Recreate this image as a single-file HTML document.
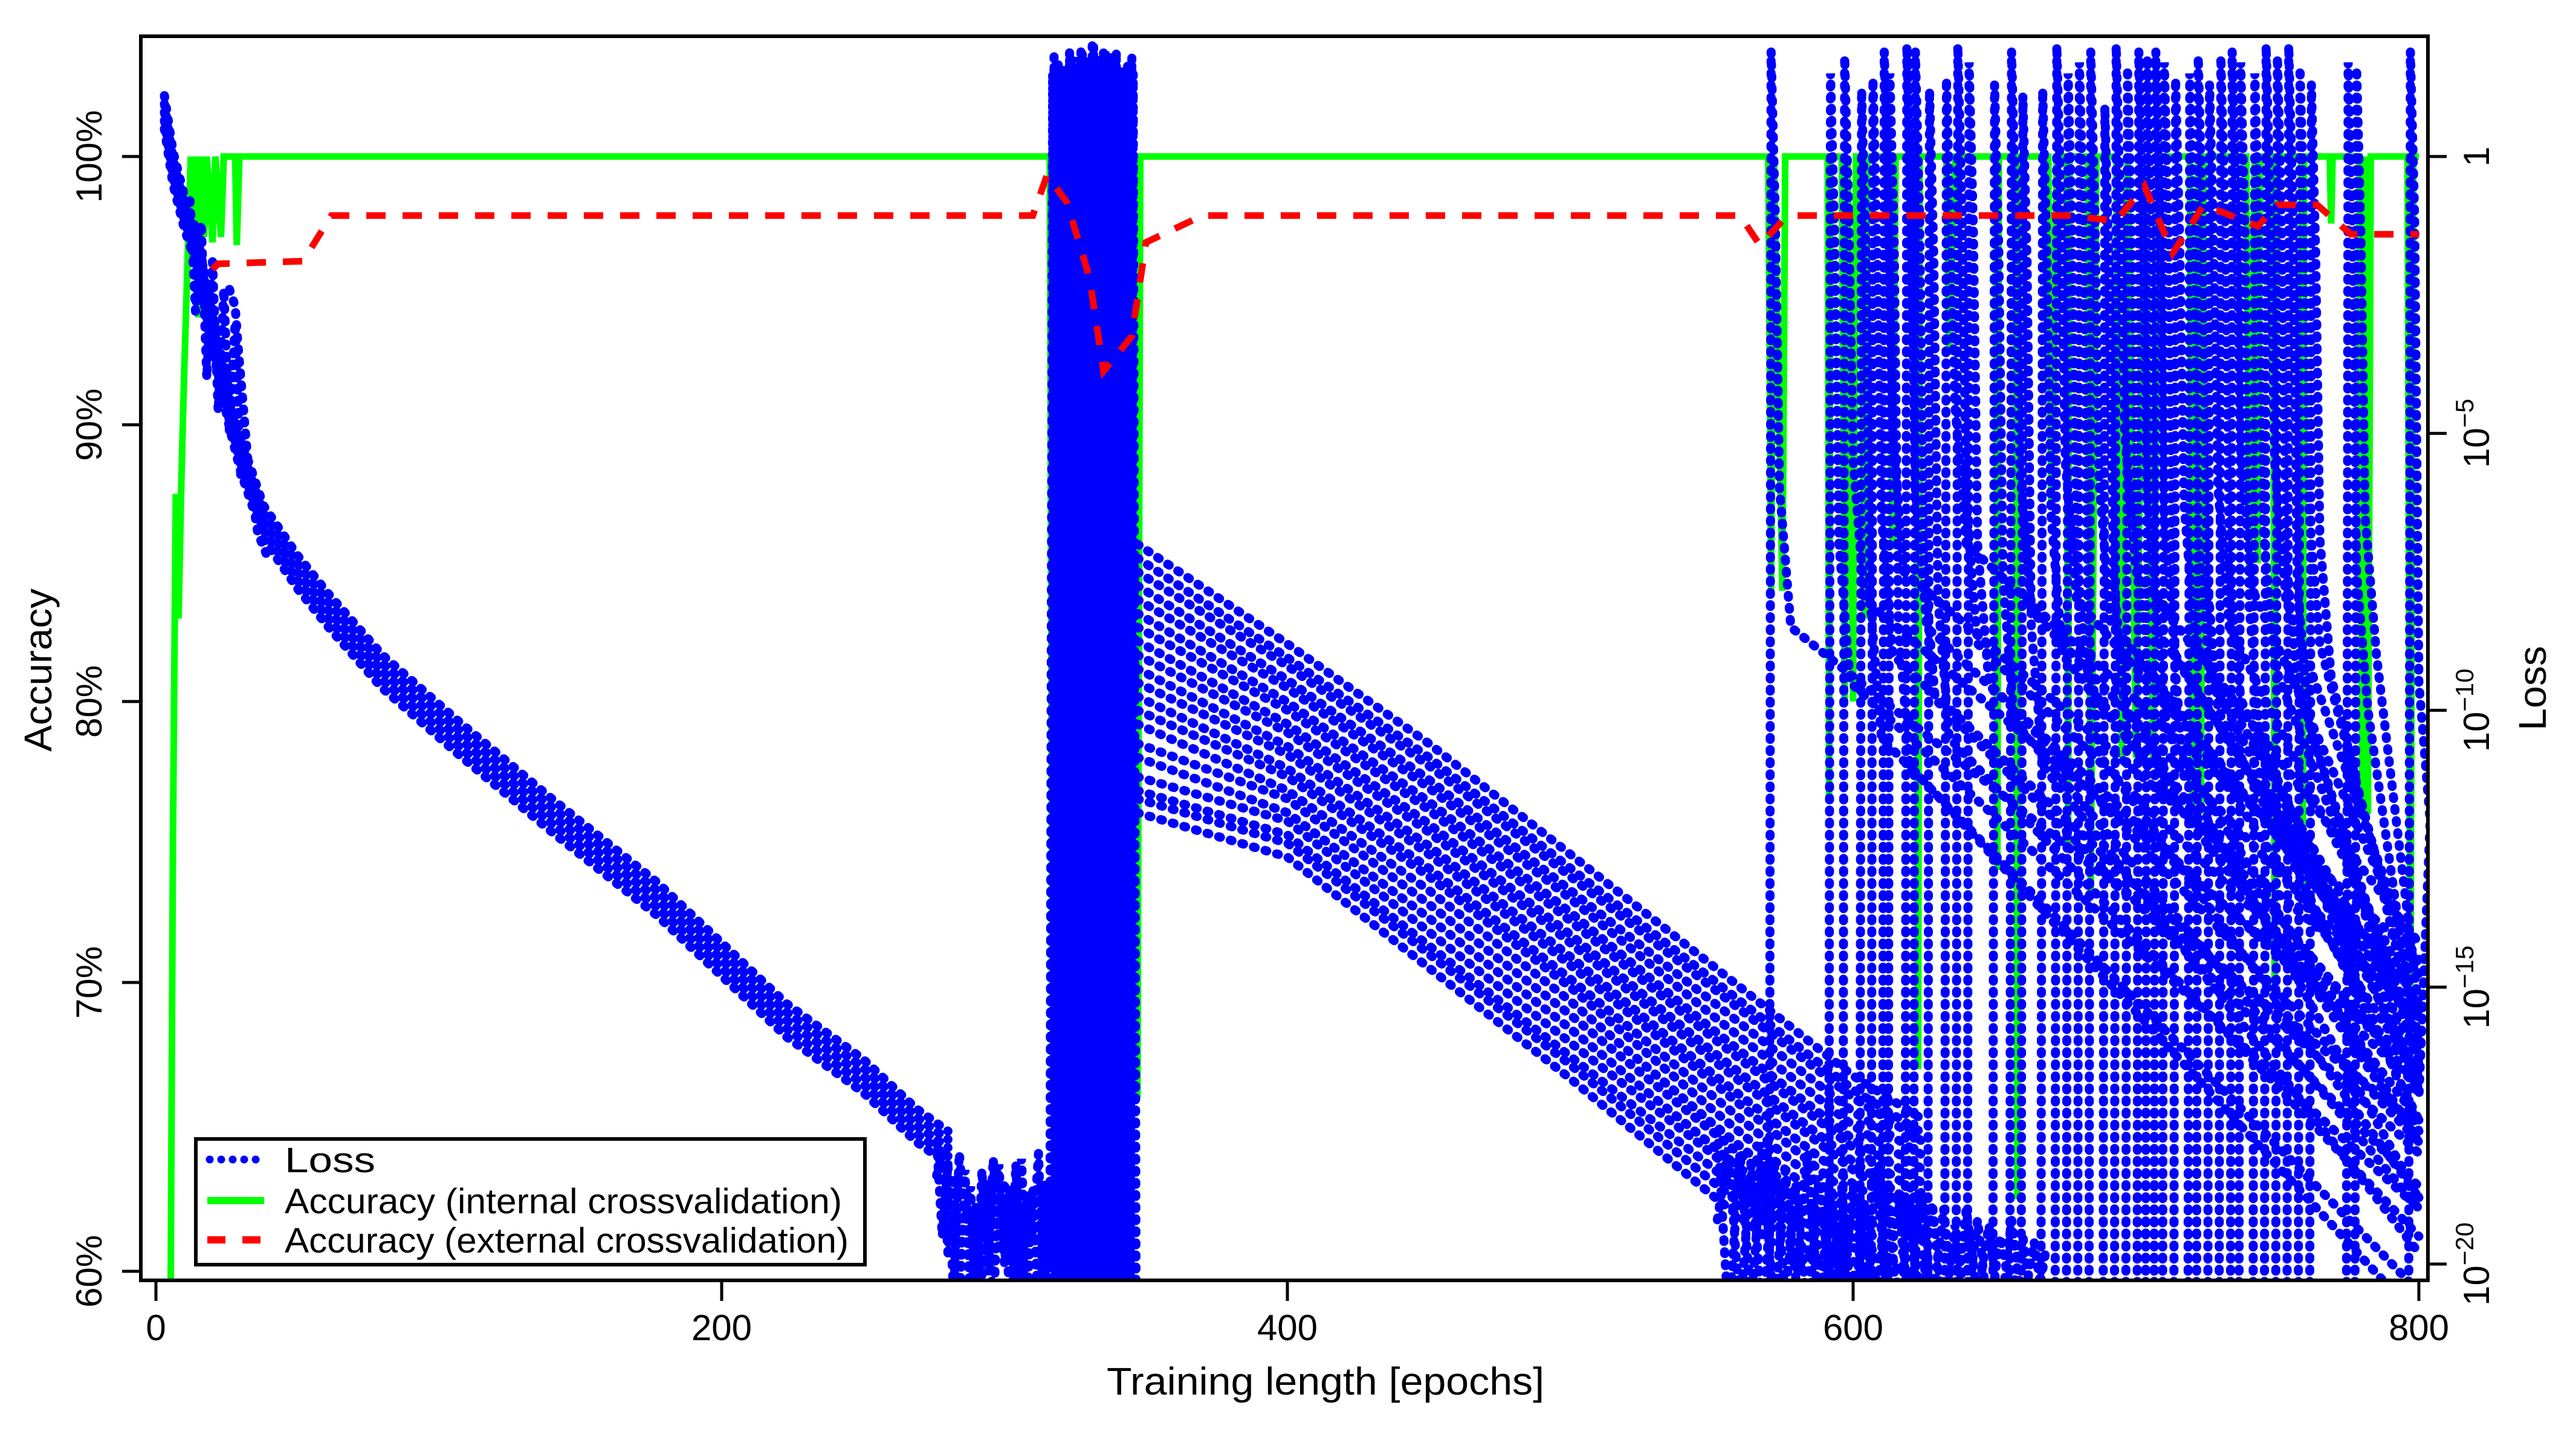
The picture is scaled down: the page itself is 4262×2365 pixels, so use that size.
<!DOCTYPE html>
<html><head><meta charset="utf-8"><style>
html,body{margin:0;padding:0;background:#fff;}
svg{display:block;}
text{font-family:"Liberation Sans",sans-serif;fill:#000;}
</style></head><body>
<svg id="chart" width="4262" height="2365" viewBox="0 0 4262 2365" xmlns="http://www.w3.org/2000/svg">
<defs><clipPath id="plotclip"><rect x="233" y="60" width="3784" height="2059"/></clipPath></defs>
<rect width="4262" height="2365" fill="#fff"/>
<g id="plot" clip-path="url(#plotclip)"></g>
<rect x="233" y="60" width="3784" height="2059" fill="none" stroke="#000" stroke-width="6"/>
<g id="axes"></g>
<text x="2193" y="2308" font-size="64" text-anchor="middle" textLength="724" lengthAdjust="spacingAndGlyphs">Training length [epochs]</text>
<text transform="translate(85,1109) rotate(-90)" font-size="64" text-anchor="middle" textLength="270" lengthAdjust="spacingAndGlyphs">Accuracy</text>
<text transform="translate(4212,1139) rotate(-90)" font-size="64" text-anchor="middle" textLength="140" lengthAdjust="spacingAndGlyphs">Loss</text>
<g>
<rect x="324" y="1885" width="1107" height="208" fill="#fff" stroke="#000" stroke-width="6"/>
<line x1="347" y1="1919" x2="434" y2="1919" stroke="#0000ff" stroke-width="13" stroke-dasharray="0 19" stroke-linecap="round"/>
<text x="471" y="1940" font-size="58" textLength="150" lengthAdjust="spacingAndGlyphs">Loss</text>
<line x1="343" y1="1987" x2="437" y2="1987" stroke="#00ff00" stroke-width="12"/>
<text x="471" y="2008" font-size="58" textLength="922" lengthAdjust="spacingAndGlyphs">Accuracy (internal crossvalidation)</text>
<line x1="343" y1="2052" x2="437" y2="2052" stroke="#ff0000" stroke-width="12" stroke-dasharray="30 28"/>
<text x="471" y="2073" font-size="58" textLength="933" lengthAdjust="spacingAndGlyphs">Accuracy (external crossvalidation)</text>
</g>
</svg>
<script>
// ---- axis ticks ----
const xTicks = [0, 200, 400, 600, 800];
const accTicks = [60, 70, 80, 90, 100];
const accTickLabels = ["60%", "70%", "80%", "90%", "100%"];
const lossTickExp = [0, -5, -10, -15, -20];

// ---- Phase 1 loss (log10) ----
const p1Epochs = [3, 6, 10, 14, 18, 21, 26, 30, 38, 50, 61, 80, 107, 140, 177, 200, 223, 250, 269, 280];
const p1Loss = [0.8, -0.2, -1.0, -1.6, -2.6, -3.4, -4.6, -5.4, -6.6, -7.5, -8.2, -9.3, -10.5, -11.9, -13.4, -14.5, -15.6, -16.6, -17.5, -17.9];
const p1Offsets = [-0.3, -0.15, 0, 0.15, 0.3];
const earlyEpochs = [12, 14, 16, 18, 20, 22, 24, 26, 28, 30];
const earlyLoss = [-0.8, -2.8, -1.2, -4.0, -1.9, -4.6, -2.4, -5.0, -3.0, -5.8];
const lateStragEpochs = [26, 28, 29, 31, 33, 36, 40];
const lateStragLoss = [-2.4, -2.7, -3.4, -4.6, -5.8, -6.8, -7.3];
const noise1Epochs = [276, 278, 280, 282, 284, 286, 288, 290, 292, 294, 296, 298, 300, 302, 304, 306, 308, 310, 312, 314, 316];
const noise1Loss = [-17.8, -19.5, -18.2, -20.6, -18.0, -19.2, -18.6, -21, -18.3, -20.2, -18.1, -19.8, -18.5, -21, -18.2, -20.5, -18.7, -19.6, -18.0, -21, -18.4];
const noise1bLoss = [-18.4, -18.0, -19.8, -18.4, -20.8, -18.3, -21, -18.9, -20.4, -18.5, -21, -18.2, -20.0, -18.6, -20.9, -18.1, -20.7, -18.6, -21, -18.5, -20];

// ---- spike block 316-346 ----
const blockEpochs = [316, 317, 318, 319, 320, 321, 322, 323, 324, 325, 326, 327, 328, 329, 330, 331, 332, 333, 334, 335, 336, 337, 338, 339, 340, 341, 342, 343, 344, 345, 346];
const blockLoss = [-20.5, 1.5, -20.5, 1.7, -20.5, 1.6, -20.5, 1.9, -20.5, 1.8, -20.5, 1.9, -20.5, 1.7, -20.5, 2.0, -20.5, 1.8, -20.5, 1.9, -20.5, 1.6, -20.5, 1.8, -20.5, 1.5, -20.5, 1.6, -18.5, 1.8, -17.0];

// ---- Phase 3 decay runs ----
const p3Epochs = [347, 400, 450, 500, 550, 600, 625];
const p3Run1 = [-7.0, -8.8, -10.6, -12.6, -14.6, -16.6, -17.4];
const p3Run2 = [-7.5, -9.2, -11.0, -13.0, -15.0, -17.0, -17.8];
const p3Run3 = [-8.0, -9.6, -11.4, -13.4, -15.5, -17.5, -18.3];
const p3Run4 = [-8.5, -10.0, -11.8, -13.8, -15.9, -17.9, -18.8];
const p3Run5 = [-9.0, -10.4, -12.2, -14.2, -16.3, -18.3, -19.2];
const p3Run6 = [-9.5, -10.8, -12.6, -14.6, -16.7, -18.8, -19.6];
const p3Run7 = [-10.0, -11.2, -13.0, -15.0, -17.2, -19.3, -20.0];
const p3Run8 = [-10.6, -11.6, -13.5, -15.5, -17.6, -19.7, -20.3];
const p3Run9 = [-11.2, -12.0, -14.0, -16.0, -18.0, -20.2, -20.5];
const p3Run10 = [-11.6, -12.4, -14.4, -16.4, -18.5, -20.5, -21.0];
const p3Offsets = [0, -0.25];

// ---- Phase 4 restart spikes ----
const spikeEpochs = [571, 592, 597, 603, 607, 611, 613, 619, 622, 627, 633, 637, 641, 650, 656, 660, 667, 672, 676, 680, 684, 689, 693, 697, 701, 704, 707, 710, 714, 719, 722, 726, 730, 734, 737, 742, 746, 750, 754, 758, 762, 775, 778, 797];
const spikePeaks = [1.9, 1.5, 1.8, 1.2, 1.4, 1.9, 1.5, 2.0, 1.9, 1.2, 1.4, 2.0, 1.7, 1.3, 1.9, 1.1, 1.2, 2.0, 1.5, 1.7, 1.9, 0.9, 2.0, 1.6, 1.9, 1.8, 1.9, 1.7, 1.4, 1.5, 1.8, 1.3, 1.8, 1.9, 1.7, 1.5, 2.0, 1.8, 2.0, 1.6, 1.3, 1.7, 1.6, 1.9];
const spikeKnees = [-8.5, -9.5, -8.0, -10.5, -9.0, -7.5, -11.0, -8.5, -9.8, -10.5, -7.0, -8.8, -9.5, -10.2, -8.2, -11.0, -9.0, -8.0, -9.6, -10.8, -8.4, -10.0, -7.5, -9.2, -8.6, -10.4, -9.0, -11.2, -8.8, -9.4, -10.0, -8.5, -9.8, -7.8, -10.6, -9.2, -8.0, -9.6, -10.2, -8.8, -9.4, -10.0, -9.0, -12.0];
const spikeEnds = [-17.5, -19.0, -16.5, -20.5, -18.0, -15.5, -21.0, -16.8, -18.6, -19.5, -14.5, -16.5, -17.8, -19.0, -15.6, -19.8, -16.8, -15.2, -17.4, -18.8, -15.6, -17.8, -14.2, -16.6, -15.8, -17.8, -16.2, -18.8, -15.8, -16.6, -17.4, -15.4, -16.8, -14.6, -17.6, -16.0, -14.8, -16.4, -17.0, -15.6, -16.0, -16.4, -15.4, -17.0];

// ---- bottom noise 552-668 ----
const noise2Epochs = [552, 556, 560, 564, 568, 572, 576, 580, 584, 588, 592, 596, 600, 604, 608, 612, 616, 620, 624, 628, 632, 636, 640, 644, 648, 652, 656, 660, 664, 668];
const noise2Loss = [-17.6, -21, -18.0, -20.8, -17.8, -21, -18.3, -20.4, -18.0, -21, -18.4, -20.7, -18.6, -21, -18.3, -20.5, -18.8, -21, -18.7, -20.8, -19.0, -21, -19.0, -20.6, -19.3, -21, -19.2, -20.8, -19.6, -21];
const noise2bLoss = [-19.2, -17.9, -20.9, -18.2, -21, -18.1, -20.6, -18.5, -21, -18.4, -20.5, -18.7, -21, -18.9, -20.9, -18.6, -21, -19.1, -20.7, -18.9, -21, -19.3, -20.9, -19.2, -21, -19.5, -20.6, -19.5, -21, -19.8];

// ---- Accuracy (internal) ----
const greenEpochs = [0, 5, 6, 7, 8, 9, 10, 12.3, 13, 14, 15, 16, 17, 18, 20, 21, 23, 24, 28, 28.6, 29.5,
 316, 317, 318, 319, 320, 321, 322, 323, 324, 325, 326, 327, 328, 329, 330, 331, 332, 333, 334, 335, 336, 337, 338, 339, 340, 341, 342, 343, 344, 345, 346, 347, 348,
 570, 571, 572, 575, 576, 591, 591.5, 592, 596, 597, 598, 600, 601, 603, 604, 605, 613, 614, 615, 622.5, 623, 623.5, 633, 634, 636, 650.5, 651, 651.5, 657.5, 658, 658.5, 669, 670, 672, 675.5, 676, 676.5, 683, 684, 686, 693, 695, 697, 700, 703, 706, 708, 719, 720, 722, 723, 724, 739, 740, 742, 743, 744, 748.5, 749, 749.5, 758.5, 759, 759.5, 768.5, 769, 769.5, 779, 780, 781, 782, 783, 796, 797, 798, 800];
const greenValues = [55, 55, 75, 87.5, 83, 88, 92, 100, 96.8, 100, 94, 100, 97, 100, 96.8, 100, 97, 100, 100, 96.7, 100,
 100, 66, 100, 70, 100, 67, 100, 72, 100, 66, 100, 69, 100, 66, 100, 71, 100, 67, 100, 70, 100, 66, 100, 68, 100, 66, 100, 67, 100, 66, 100, 66, 100,
 100, 84, 100, 84, 100, 100, 76.5, 100, 100, 80, 100, 80, 100, 100, 83, 100, 100, 85.5, 100, 100, 67, 100, 100, 92.8, 100, 100, 74, 100, 100, 62.5, 100, 100, 87, 100, 100, 74.7, 100, 100, 73, 100, 100, 78, 100, 78, 100, 78, 100, 100, 75.9, 100, 76, 100, 100, 84.6, 100, 85, 100, 100, 69.6, 100, 100, 73, 100, 100, 97.5, 100, 100, 76, 100, 76, 100, 100, 68, 100, 100];

// ---- Accuracy (external) ----
const redEpochs = [20, 22, 52, 62, 310, 315, 322, 330, 335, 345, 350, 370, 560, 567, 575, 580, 676, 693, 703, 713, 724, 743, 750, 764, 776, 800];
const redValues = [95.8, 96.0, 96.1, 97.8, 97.8, 99.3, 98.3, 95.5, 92.0, 93.3, 96.8, 97.8, 97.8, 96.7, 97.6, 97.8, 97.8, 97.6, 98.9, 96.4, 98.2, 97.4, 98.2, 98.2, 97.1, 97.1];

// ---- scales ----
const accPix = [2104, 1626, 1161, 703, 259];
function xS(e){ return 258 + e * (4002 - 258) / 800; }
function yAcc(v){
  if (v <= accTicks[0]) return accPix[0] + (accTicks[0] - v) * (accPix[0] - accPix[1]) / 10;
  for (let i = 0; i < accTicks.length - 1; i++) {
    if (v <= accTicks[i + 1]) return accPix[i] + (v - accTicks[i]) * (accPix[i + 1] - accPix[i]) / (accTicks[i + 1] - accTicks[i]);
  }
  const n = accTicks.length - 1;
  return accPix[n] - (v - accTicks[n]) * (accPix[n - 1] - accPix[n]) / 10;
}
function yLoss(l){ return 259 + (0 - l) * (2092 - 259) / 20; }

const NS = "http://www.w3.org/2000/svg";
const plot = document.getElementById("plot");
const axes = document.getElementById("axes");

function pathD(epochs, vals, yf, off){
  let d = "";
  for (let i = 0; i < epochs.length; i++) {
    d += (i ? "L" : "M") + xS(epochs[i]).toFixed(1) + " " + yf(vals[i] + (off || 0)).toFixed(1);
  }
  return d;
}
function lossPath(epochs, vals, name, off){
  const p = document.createElementNS(NS, "path");
  p.setAttribute("d", pathD(epochs, vals, yLoss, off));
  p.setAttribute("fill", "none");
  p.setAttribute("stroke", "#0000ff");
  p.setAttribute("stroke-width", "15");
  p.setAttribute("stroke-linecap", "round");
  p.setAttribute("stroke-dasharray", "3 17");
  
  
  plot.appendChild(p);
  return p;
}

const g = document.createElementNS(NS, "path");
g.setAttribute("d", pathD(greenEpochs, greenValues, yAcc));
g.setAttribute("fill", "none");
g.setAttribute("stroke", "#00ff00");
g.setAttribute("stroke-width", "11");


plot.appendChild(g);

p1Offsets.forEach(function(o){ lossPath(p1Epochs, p1Loss, "loss-phase1-run", o); });
lossPath(earlyEpochs, earlyLoss, "loss-early-scatter");
lossPath(lateStragEpochs, lateStragLoss, "loss-early-straggler");
lossPath(noise1Epochs, noise1Loss, "loss-plateau-noise");
lossPath(noise1Epochs, noise1bLoss, "loss-plateau-noise");
lossPath(blockEpochs, blockLoss, "loss-spike-block");
lossPath(blockEpochs.map(function(e){ return e + 0.5; }), blockLoss.slice().reverse(), "loss-spike-block");
[p3Run1, p3Run2, p3Run3, p3Run4, p3Run5, p3Run6, p3Run7, p3Run8, p3Run9, p3Run10].forEach(function(r){
  p3Offsets.forEach(function(o){ lossPath(p3Epochs, r, "loss-phase3-run", o); });
});
lossPath(noise2Epochs, noise2Loss, "loss-bottom-noise");
lossPath(noise2Epochs, noise2bLoss, "loss-bottom-noise");
for (let i = 0; i < spikeEpochs.length; i++) {
  const e = spikeEpochs[i], pk = spikePeaks[i], kn = spikeKnees[i], en = spikeEnds[i];
  const ep = [e - 0.6, e, e + 1.5, e + 3, e + 7, 800];
  const vs = [-21, pk, pk - 3, kn + 2.5, kn, en];
  lossPath(ep, vs, "loss-restart-spike");
}

const r = document.createElementNS(NS, "path");
r.setAttribute("d", pathD(redEpochs, redValues, yAcc));
r.setAttribute("fill", "none");
r.setAttribute("stroke", "#ff0000");
r.setAttribute("stroke-width", "11");
r.setAttribute("stroke-dasharray", "32 28");


plot.appendChild(r);

function line(x1, y1, x2, y2, name){
  const l = document.createElementNS(NS, "line");
  l.setAttribute("x1", x1); l.setAttribute("y1", y1); l.setAttribute("x2", x2); l.setAttribute("y2", y2);
  l.setAttribute("stroke", "#000"); l.setAttribute("stroke-width", "5");
  
  
  axes.appendChild(l);
}
xTicks.forEach(function(t){
  const x = xS(t);
  line(x, 2119, x, 2153, "x-tick");
  const tx = document.createElementNS(NS, "text");
  tx.setAttribute("x", x); tx.setAttribute("y", 2218);
  tx.setAttribute("font-size", "60"); tx.setAttribute("text-anchor", "middle");
  tx.textContent = String(t);
  
  
  axes.appendChild(tx);
});
accTicks.forEach(function(t, i){
  const y = yAcc(t);
  line(202, y, 233, y, "y-left-tick");
  const tx = document.createElementNS(NS, "text");
  tx.setAttribute("transform", "translate(168," + y + ") rotate(-90)");
  tx.setAttribute("font-size", "60"); tx.setAttribute("text-anchor", "middle");
  tx.textContent = accTickLabels[i];
  
  
  axes.appendChild(tx);
});
lossTickExp.forEach(function(ex){
  const y = yLoss(ex);
  line(4017, y, 4048, y, "y-right-tick");
  const tx = document.createElementNS(NS, "text");
  tx.setAttribute("transform", "translate(4118," + y + ") rotate(-90)");
  tx.setAttribute("font-size", "60"); tx.setAttribute("text-anchor", "middle");
  
  
  if (ex === 0) { tx.textContent = "1"; }
  else {
    const b = document.createElementNS(NS, "tspan"); b.textContent = "10";
    const s = document.createElementNS(NS, "tspan"); s.setAttribute("dy", "-26"); s.setAttribute("font-size", "42");
    s.textContent = "\u2212" + Math.abs(ex);
    tx.appendChild(b); tx.appendChild(s);
  }
  axes.appendChild(tx);
});
</script>
</body></html>
